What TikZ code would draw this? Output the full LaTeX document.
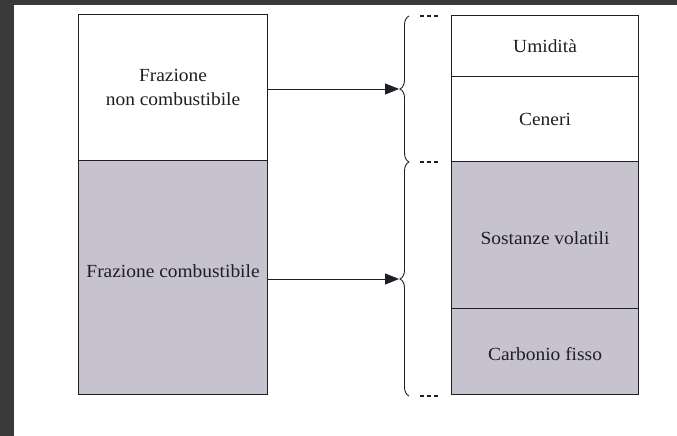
\documentclass[tikz,border=0pt]{standalone}
\usepackage{fontspec}
\setmainfont{Liberation Serif}[FakeStretch=1.05]
\usetikzlibrary{decorations.pathreplacing,arrows.meta}

\definecolor{frame}{HTML}{3A3A3A}
\definecolor{ink}{HTML}{1E1E24}
\definecolor{shade}{HTML}{C6C2CE}

% lift a label inside its box without changing the box size
\newcommand{\liftby}[2]{\raisebox{#1}[\height][\depth]{#2}}

\tikzset{
  part/.style={draw=ink, line width=1.1pt, inner sep=0pt, anchor=north west,
    align=center, font=\rmfamily\fontsize{18.5}{24}\selectfont, text=ink},
  blank/.style={part, fill=white},
  shaded/.style={part, fill=shade},
  bracket/.style={draw=ink, line width=0.9pt, decorate,
    decoration={brace, amplitude=9pt}},
  arr/.style={draw=ink, line width=0.9pt,
    -{Triangle[length=14pt, width=11pt]}},
  tick/.style={draw=ink, line width=1.3pt, dash pattern=on 4pt off 3pt}
}

\begin{document}
\begin{tikzpicture}[x=1pt, y=1pt]
  % page frame
  \fill[white] (0,0) rectangle (677,436);
  \fill[frame] (0,0) rectangle (14,436);
  \fill[frame] (0,431) rectangle (677,436);
  \useasboundingbox (0,0) rectangle (677,436);

  % left column
  \node[blank, minimum width=189pt, minimum height=146pt] (lt) at (78,422)
    {Frazione\\non combustibile};
  \node[shaded, minimum width=189pt, minimum height=234pt] (lb) at (78,276)
    {\liftby{6pt}{Frazione combustibile}};

  % right column
  \node[blank, minimum width=187pt, minimum height=61pt] (r1) at (451,421) {Umidità};
  \node[blank, minimum width=187pt, minimum height=85pt] (r2) at (451,360) {Ceneri};
  \node[shaded, minimum width=187pt, minimum height=147pt] (r3) at (451,275)
    {\liftby{-3pt}{Sostanze volatili}};
  \node[shaded, minimum width=187pt, minimum height=86pt] (r4) at (451,128)
    {\liftby{-3pt}{Carbonio fisso}};

  % braces
  \coordinate (a1) at (409,420);
  \coordinate (a2) at (409,274);
  \coordinate (a3) at (409,40);
  \coordinate (tip1) at (399,347);
  \coordinate (tip2) at (399,157);
  \draw[bracket] (a2) -- (a1);
  \draw[bracket] (a3) -- (a2);

  % dashed continuation marks
  \coordinate (d1) at (440,420);
  \coordinate (d2) at (440,274);
  \coordinate (d3) at (440,40);
  \draw[tick] (420,420) -- (d1);
  \draw[tick] (420,274) -- (d2);
  \draw[tick] (420,40) -- (d3);

  % arrows
  \draw[arr] (lt.east |- tip1) -- (tip1);
  \draw[arr] (lb.east |- tip2) -- (tip2);
\end{tikzpicture}
\end{document}
